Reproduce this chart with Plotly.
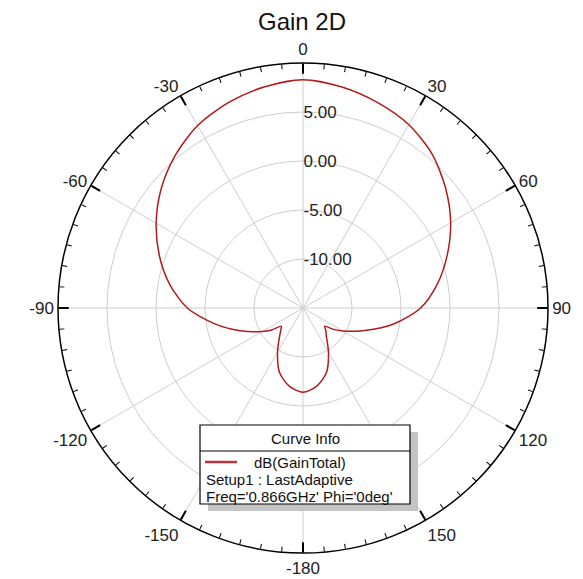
import plotly.graph_objects as go

# ---- data ----
theta_deg = [-180, -170, -160, -150, -140, -135, -130, -125, -120, -110, -100, -90,
             -80, -70, -60, -50, -40, -30, -20, -10, 0, 10, 20, 30, 40, 50, 60, 70,
             80, 90, 100, 110, 120, 125, 130, 135, 140, 150, 160, 170, 180]
gain_db = [-6.4, -6.9, -8.0, -9.8, -11.3, -11.8, -12.1, -11.1, -10.2, -8.2, -5.8, -3.2,
           -1.2, 0.6, 2.3, 3.9, 5.3, 6.5, 7.3, 7.9, 8.3, 7.9, 7.3, 6.6, 5.5, 4.0, 2.4, 0.65,
           -1.1, -3.0, -5.6, -8.3, -10.3, -11.2, -12.1, -11.7, -11.3, -9.8, -8.0, -6.9, -6.4]

ang_tickvals = [0, 30, 60, 90, 120, 150, 180, 210, 240, 270, 300, 330]
ang_ticktext = ["0", "30", "60", "90", "120", "150", "-180", "-150", "-120", "-90", "-60", "-30"]
rad_tickvals = [-10, -5, 0, 5]
rad_ticktext = ["-10.00", "-5.00", "0.00", "5.00"]
rad_range = [-15, 10]

trace_name = "dB(GainTotal)"
legend_lines = ["Setup1 : LastAdaptive", "Freq='0.866GHz' Phi='0deg'"]

FONT = "Arial, Liberation Sans, sans-serif"
OFF = 8  # page body margin offset
W, H = 583 - OFF, 579 - OFF
curve_color = "#b31b1b"

CX, CY, R = 303 - OFF, 308 - OFF, 245
ML, MR, MT, MB = CX - R, W - CX - R, CY - R, H - CY - R

fig = go.Figure()
fig.add_trace(go.Scatterpolar(
    r=gain_db, theta=theta_deg, mode="lines",
    line=dict(color=curve_color, width=1.5, shape="spline", smoothing=0.8),
    name=trace_name, showlegend=False, subplot="polar"))
# empty trace so the overlay subplot (minor ticks) is drawn
fig.add_trace(go.Scatterpolar(r=[], theta=[], subplot="polar2",
                              showlegend=False, hoverinfo="skip"))

grid = "#cdcdcd"
common_ang = dict(rotation=90, direction="clockwise")
fig.update_layout(
    width=W, height=H,
    margin=dict(l=ML, r=MR, t=MT, b=MB),
    paper_bgcolor="white",
    showlegend=False,
    title=dict(text="Gain 2D", x=(302 - OFF) / W, xanchor="center",
               y=1 - (22 - OFF) / H, yanchor="middle", yref="container",
               font=dict(family=FONT, size=24, color="#111")),
    polar=dict(
        domain=dict(x=[0, 1], y=[0, 1]),
        bgcolor="white",
        radialaxis=dict(range=rad_range, tickvals=rad_tickvals,
                        ticktext=rad_ticktext,
                        showline=False, ticks="", gridcolor=grid, gridwidth=1,
                        angle=90, side="clockwise", tickangle=90,
                        tickfont=dict(family=FONT, size=17, color="#222")),
        angularaxis=dict(**common_ang, tickmode="array", tickvals=ang_tickvals,
                         ticktext=ang_ticktext, ticks="inside", ticklen=10,
                         tickwidth=1.5, tickcolor="black", showline=True,
                         linecolor="black", linewidth=1.5, gridcolor=grid, gridwidth=1,
                         tickfont=dict(family=FONT, size=17, color="#222")),
    ),
    polar2=dict(
        domain=dict(x=[0, 1], y=[0, 1]),
        bgcolor="rgba(0,0,0,0)",
        radialaxis=dict(range=rad_range, visible=False),
        angularaxis=dict(**common_ang, tickmode="linear", tick0=0, dtick=5,
                         ticks="inside", ticklen=5, tickwidth=1, tickcolor="black",
                         showticklabels=False, showgrid=False, showline=False),
    ),
)

# ---- "Curve Info" box (page pixel positions converted to paper coords) ----
pw, ph = W - ML - MR, H - MT - MB
def px(x):
    return (x - OFF - ML) / pw
def py(y):
    return 1 - (y - OFF - MT) / ph

box = dict(x0=200, x1=410, y0=425, y1=504)
fig.add_shape(type="rect", xref="paper", yref="paper",
              x0=px(box["x0"] + 8), x1=px(box["x1"] + 8),
              y0=py(box["y1"] + 7), y1=py(box["y0"] + 7),
              fillcolor="#c4c4c4", line=dict(width=0), layer="above")
fig.add_shape(type="rect", xref="paper", yref="paper",
              x0=px(box["x0"]), x1=px(box["x1"]), y0=py(box["y1"]), y1=py(box["y0"]),
              fillcolor="white", line=dict(color="black", width=1.2), layer="above")
fig.add_shape(type="line", xref="paper", yref="paper",
              x0=px(box["x0"]), x1=px(box["x1"]), y0=py(451), y1=py(451),
              line=dict(color="black", width=1), layer="above")
fig.add_shape(type="line", xref="paper", yref="paper",
              x0=px(205), x1=px(237), y0=py(462), y1=py(462),
              line=dict(color="#c0303a", width=2.5), layer="above")

ann_font = dict(family=FONT, size=15, color="#111")
fig.add_annotation(x=px(305), y=py(438), xref="paper", yref="paper", text="Curve Info",
                   showarrow=False, xanchor="center", yanchor="middle", font=ann_font)
fig.add_annotation(x=px(252), y=py(462), xref="paper", yref="paper", text=trace_name,
                   showarrow=False, xanchor="left", yanchor="middle", font=ann_font)
for i, line in enumerate(legend_lines):
    fig.add_annotation(x=px(204), y=py(479 + 17.5 * i), xref="paper", yref="paper",
                       text=line, showarrow=False, xanchor="left", yanchor="middle",
                       font=ann_font)

fig.write_html("out.html")
